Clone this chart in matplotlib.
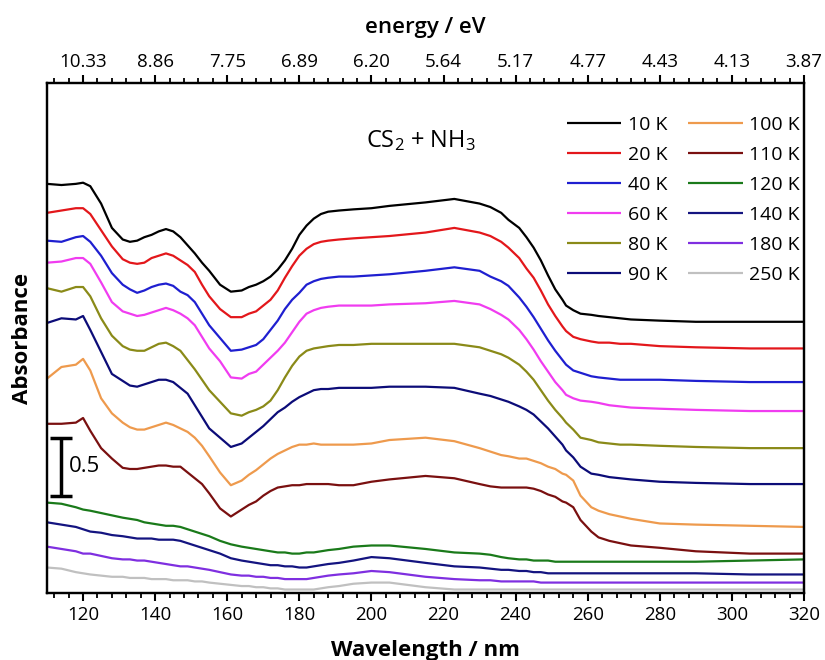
import matplotlib
matplotlib.use('Agg')
import matplotlib.pyplot as plt
from matplotlib.ticker import MultipleLocator

plt.rcParams['font.family'] = ['Open Sans', 'DejaVu Sans']
plt.rcParams['mathtext.default'] = 'regular'

# wavelength grid (nm)
wavelength = [110, 114, 118, 120, 122, 125, 128, 131, 133, 135,
              137, 139, 141, 143, 145, 147, 149, 151, 153, 155,
              158, 161, 164, 166, 168, 170, 172, 174, 176, 178,
              180, 182, 184, 186, 188, 191, 195, 200, 205, 215,
              223, 230, 233, 236, 238, 241, 243, 245, 247, 249,
              251, 253, 254, 256, 258, 261, 263, 266, 269, 272,
              280, 290, 305, 320]

# stacked absorbance, curves offset as displayed
a_10K = [3.53, 3.52, 3.53, 3.54, 3.51, 3.36, 3.15, 3.05, 3.03, 3.04,
         3.07, 3.09, 3.12, 3.14, 3.12, 3.07, 3.00, 2.93, 2.85, 2.78,
         2.66, 2.60, 2.61, 2.64, 2.66, 2.69, 2.73, 2.79, 2.87, 2.97,
         3.09, 3.17, 3.23, 3.27, 3.29, 3.30, 3.31, 3.32, 3.34, 3.37,
         3.40, 3.36, 3.33, 3.28, 3.22, 3.15, 3.07, 2.98, 2.87, 2.74,
         2.62, 2.53, 2.48, 2.44, 2.41, 2.40, 2.39, 2.38, 2.37, 2.36,
         2.35, 2.34, 2.34, 2.34]
a_20K = [3.28, 3.30, 3.32, 3.32, 3.27, 3.13, 2.99, 2.88, 2.85, 2.84,
         2.85, 2.89, 2.91, 2.93, 2.91, 2.87, 2.83, 2.77, 2.66, 2.56,
         2.45, 2.38, 2.38, 2.41, 2.43, 2.48, 2.53, 2.61, 2.72, 2.82,
         2.91, 2.97, 3.01, 3.03, 3.04, 3.05, 3.06, 3.07, 3.08, 3.11,
         3.15, 3.11, 3.08, 3.03, 2.98, 2.89, 2.80, 2.72, 2.61, 2.49,
         2.39, 2.30, 2.26, 2.21, 2.19, 2.17, 2.16, 2.16, 2.15, 2.15,
         2.13, 2.12, 2.11, 2.11]
a_40K = [3.04, 3.03, 3.07, 3.08, 3.03, 2.91, 2.76, 2.66, 2.62, 2.59,
         2.61, 2.64, 2.66, 2.67, 2.65, 2.60, 2.57, 2.51, 2.41, 2.31,
         2.20, 2.09, 2.10, 2.12, 2.14, 2.19, 2.27, 2.35, 2.45, 2.53,
         2.59, 2.66, 2.69, 2.71, 2.72, 2.73, 2.73, 2.74, 2.75, 2.78,
         2.81, 2.78, 2.73, 2.69, 2.65, 2.55, 2.47, 2.38, 2.28, 2.18,
         2.09, 2.01, 1.97, 1.92, 1.90, 1.87, 1.86, 1.85, 1.84, 1.84,
         1.84, 1.83, 1.82, 1.82]
a_60K = [2.85, 2.86, 2.89, 2.89, 2.84, 2.68, 2.51, 2.43, 2.41, 2.39,
         2.40, 2.42, 2.44, 2.46, 2.44, 2.41, 2.37, 2.31, 2.21, 2.11,
         2.00, 1.86, 1.85, 1.89, 1.91, 1.97, 2.03, 2.09, 2.16, 2.25,
         2.34, 2.41, 2.44, 2.46, 2.47, 2.48, 2.48, 2.48, 2.49, 2.50,
         2.52, 2.49, 2.45, 2.40, 2.36, 2.27, 2.19, 2.10, 2.00, 1.91,
         1.82, 1.75, 1.71, 1.68, 1.66, 1.65, 1.64, 1.62, 1.61, 1.60,
         1.59, 1.58, 1.57, 1.57]
a_80K = [2.63, 2.60, 2.64, 2.64, 2.56, 2.37, 2.22, 2.13, 2.10, 2.09,
         2.09, 2.12, 2.15, 2.16, 2.13, 2.09, 2.01, 1.93, 1.84, 1.75,
         1.65, 1.55, 1.53, 1.56, 1.58, 1.61, 1.66, 1.75, 1.86, 1.96,
         2.04, 2.09, 2.11, 2.12, 2.13, 2.14, 2.14, 2.15, 2.15, 2.15,
         2.15, 2.12, 2.09, 2.06, 2.03, 1.97, 1.91, 1.84, 1.75, 1.66,
         1.58, 1.51, 1.47, 1.41, 1.34, 1.32, 1.30, 1.29, 1.28, 1.28,
         1.27, 1.26, 1.25, 1.25]
a_90K = [2.33, 2.37, 2.36, 2.39, 2.27, 2.08, 1.89, 1.83, 1.79, 1.78,
         1.80, 1.82, 1.84, 1.84, 1.82, 1.77, 1.72, 1.62, 1.52, 1.42,
         1.34, 1.26, 1.29, 1.34, 1.39, 1.44, 1.50, 1.56, 1.60, 1.65,
         1.69, 1.72, 1.75, 1.76, 1.76, 1.77, 1.77, 1.77, 1.78, 1.78,
         1.77, 1.72, 1.70, 1.67, 1.65, 1.61, 1.58, 1.54, 1.48, 1.42,
         1.35, 1.28, 1.23, 1.17, 1.09, 1.03, 1.02, 1.00, 0.99, 0.98,
         0.96, 0.95, 0.94, 0.94]
a_100K = [1.85, 1.95, 1.97, 2.02, 1.92, 1.68, 1.55, 1.47, 1.43, 1.41,
          1.41, 1.43, 1.45, 1.47, 1.45, 1.42, 1.39, 1.34, 1.27, 1.18,
          1.04, 0.93, 0.97, 1.02, 1.06, 1.11, 1.16, 1.20, 1.23, 1.26,
          1.28, 1.28, 1.29, 1.28, 1.28, 1.28, 1.28, 1.29, 1.32, 1.34,
          1.31, 1.25, 1.22, 1.19, 1.18, 1.16, 1.16, 1.14, 1.12, 1.09,
          1.07, 1.03, 1.02, 0.97, 0.84, 0.74, 0.71, 0.68, 0.66, 0.64,
          0.60, 0.59, 0.58, 0.57]
a_110K = [1.46, 1.46, 1.47, 1.51, 1.40, 1.25, 1.16, 1.08, 1.07, 1.07,
          1.08, 1.09, 1.10, 1.10, 1.09, 1.09, 1.04, 0.99, 0.94, 0.86,
          0.73, 0.66, 0.72, 0.76, 0.79, 0.84, 0.88, 0.91, 0.92, 0.93,
          0.93, 0.94, 0.94, 0.94, 0.94, 0.93, 0.93, 0.96, 0.98, 1.01,
          0.99, 0.94, 0.92, 0.91, 0.91, 0.91, 0.91, 0.90, 0.88, 0.85,
          0.83, 0.79, 0.78, 0.74, 0.63, 0.53, 0.48, 0.45, 0.43, 0.41,
          0.39, 0.36, 0.34, 0.34]
a_120K = [0.78, 0.77, 0.74, 0.72, 0.71, 0.69, 0.67, 0.65, 0.64, 0.63,
          0.61, 0.60, 0.59, 0.58, 0.58, 0.57, 0.55, 0.53, 0.51, 0.49,
          0.45, 0.42, 0.40, 0.39, 0.38, 0.37, 0.36, 0.35, 0.35, 0.34,
          0.34, 0.35, 0.35, 0.36, 0.37, 0.38, 0.40, 0.41, 0.41, 0.38,
          0.35, 0.34, 0.33, 0.31, 0.30, 0.29, 0.29, 0.28, 0.28, 0.28,
          0.27, 0.27, 0.27, 0.27, 0.27, 0.27, 0.27, 0.27, 0.27, 0.27,
          0.27, 0.27, 0.28, 0.29]
a_140K = [0.61, 0.59, 0.57, 0.55, 0.53, 0.52, 0.50, 0.49, 0.48, 0.47,
          0.47, 0.47, 0.46, 0.46, 0.46, 0.45, 0.43, 0.41, 0.39, 0.37,
          0.34, 0.30, 0.28, 0.27, 0.26, 0.25, 0.24, 0.24, 0.23, 0.23,
          0.22, 0.22, 0.23, 0.24, 0.25, 0.26, 0.28, 0.31, 0.30, 0.26,
          0.23, 0.22, 0.21, 0.20, 0.20, 0.19, 0.19, 0.18, 0.18, 0.17,
          0.17, 0.17, 0.17, 0.17, 0.17, 0.17, 0.17, 0.17, 0.17, 0.17,
          0.17, 0.17, 0.16, 0.16]
a_180K = [0.40, 0.38, 0.36, 0.34, 0.34, 0.32, 0.30, 0.29, 0.29, 0.28,
          0.28, 0.27, 0.26, 0.25, 0.24, 0.23, 0.23, 0.22, 0.21, 0.20,
          0.18, 0.16, 0.15, 0.15, 0.14, 0.14, 0.13, 0.13, 0.12, 0.12,
          0.12, 0.12, 0.13, 0.14, 0.15, 0.16, 0.17, 0.19, 0.18, 0.14,
          0.12, 0.11, 0.11, 0.10, 0.10, 0.10, 0.10, 0.10, 0.09, 0.09,
          0.09, 0.09, 0.09, 0.09, 0.09, 0.09, 0.09, 0.09, 0.09, 0.09,
          0.09, 0.09, 0.09, 0.09]
a_250K = [0.22, 0.21, 0.18, 0.17, 0.16, 0.15, 0.14, 0.14, 0.13, 0.13,
          0.13, 0.12, 0.12, 0.12, 0.11, 0.11, 0.11, 0.10, 0.10, 0.09,
          0.08, 0.07, 0.06, 0.06, 0.05, 0.05, 0.04, 0.04, 0.03, 0.03,
          0.03, 0.03, 0.03, 0.04, 0.05, 0.06, 0.08, 0.09, 0.09, 0.05,
          0.03, 0.03, 0.03, 0.03, 0.03, 0.03, 0.03, 0.03, 0.03, 0.03,
          0.03, 0.03, 0.03, 0.03, 0.03, 0.03, 0.03, 0.03, 0.03, 0.03,
          0.03, 0.03, 0.03, 0.03]

labels = ['10 K', '20 K', '40 K', '60 K', '80 K', '90 K',
          '100 K', '110 K', '120 K', '140 K', '180 K', '250 K']
colors = ['#000000', '#e3171b', '#1f1fd0', '#f03cf0', '#8a8a18', '#0c0c78',
          '#ee9a4d', '#7a1010', '#1a7a1a', '#141480', '#7f2fe0', '#c0c0c0']

# top axis: energy labels at the wavelength major ticks
top_ticks_nm = [120, 140, 160, 180, 200, 220, 240, 260, 280, 300, 320]
energy_labels = ['10.33', '8.86', '7.75', '6.89', '6.20', '5.64', '5.17', '4.77', '4.43', '4.13', '3.87']

scale_bar = 0.5

fig = plt.figure(figsize=(8.25, 6.6), dpi=100)
ax = fig.add_axes([0.057, 0.1015, 0.9175, 0.7727])

series = [a_10K, a_20K, a_40K, a_60K, a_80K, a_90K,
          a_100K, a_110K, a_120K, a_140K, a_180K, a_250K]
for lab, vals, col in zip(labels, series, colors):
    ax.plot(wavelength, vals, color=col, lw=1.6, label=lab,
            solid_joinstyle='round', solid_capstyle='butt')

ax.set_xlim(110, 320)
ax.set_ylim(0, 4.4)
ax.set_yticks([])
ax.xaxis.set_major_locator(MultipleLocator(20))
ax.xaxis.set_minor_locator(MultipleLocator(4))
ax.tick_params(axis='x', which='major', direction='out', length=6, width=1.5, labelsize=13.5, pad=3)
ax.tick_params(axis='x', which='minor', direction='out', length=3.5, width=1.3)
for s in ax.spines.values():
    s.set_linewidth(1.6)

ax.set_xlabel('Wavelength / nm', fontsize=16, fontweight='bold', labelpad=12)
ax.set_ylabel('Absorbance', fontsize=16, fontweight='bold', labelpad=10)

ax2 = ax.twiny()
ax2.set_xlim(110, 320)
ax2.set_xticks(top_ticks_nm)
ax2.set_xticklabels(energy_labels)
ax2.xaxis.set_minor_locator(MultipleLocator(4))
ax2.tick_params(axis='x', which='major', direction='out', length=6, width=1.5, labelsize=13.5, pad=3)
ax2.tick_params(axis='x', which='minor', direction='out', length=3.5, width=1.3)
ax2.set_xlabel('energy / eV', fontsize=16, fontweight='semibold', labelpad=14)
for s in ax2.spines.values():
    s.set_linewidth(1.6)

ax.legend(ncol=2, loc='upper right', bbox_to_anchor=(1 - 4 / 757, 1 - 33 / 510), frameon=False,
          fontsize=14, handlelength=2.8, handletextpad=0.35, columnspacing=1.05,
          labelspacing=0.62, borderpad=0, borderaxespad=0)

ax.text(213.6, 3.9, r'CS$_2$ + NH$_3$', fontsize=17, ha='center', va='center')

# scale bar
ax.errorbar([114], [1.09], yerr=[scale_bar / 2], fmt='none', ecolor='k',
            elinewidth=2.5, capsize=8, capthick=2.5)
ax.text(116.2, 1.09, '0.5', fontsize=16, ha='left', va='center')

fig.savefig('out.png', dpi=100)
